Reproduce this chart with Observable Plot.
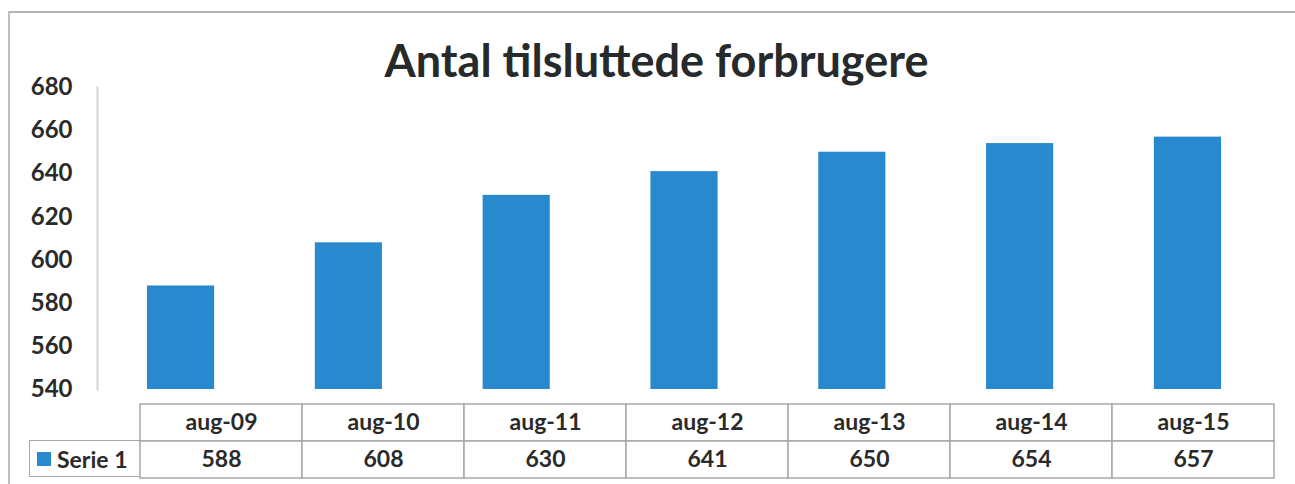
<!DOCTYPE html>
<html>
<head>
<meta charset="utf-8">
<script src="https://cdn.jsdelivr.net/npm/d3@7"></script>
<script src="https://cdn.jsdelivr.net/npm/@observablehq/plot@0.6"></script>
<style>
  html, body { margin: 0; padding: 0; background: #fff; }
  #wrap { position: relative; width: 1295px; height: 484px; overflow: hidden; font-family: Lato, sans-serif; color: #2a2a2a; }
  #border { position: absolute; left: 8px; top: 11px; width: 1300px; height: 480px; border-top: 2px solid #b5b5b5; border-left: 2px solid #c0c0c0; }
  #title { position: absolute; left: 0; width: 1313px; top: 33px; text-align: center; font-family: Lato, sans-serif; font-weight: 700; font-size: 45px; color: #262a2a; white-space: nowrap; }
  #chart { position: absolute; left: 0; top: 0; }
  #table { position: absolute; left: 0; top: 403px; }
  #legendcell { position: absolute; left: 29px; top: 440px; width: 111px; height: 37px; box-sizing: border-box; border: 1.5px solid #a8a8a8; border-right: none; display: flex; align-items: center; font-size: 23px; font-weight: 700; color: #2a2a2a; }
  #legendcell .sw { display: inline-block; width: 14px; height: 14px; background: #2989cf; margin: 0 6px 0 7px; }
</style>
</head>
<body>
<div id="wrap">
  <div id="border"></div>
  <div id="chart"></div>
  <div id="title">Antal tilsluttede forbrugere</div>
  <div id="table"></div>
  <div id="legendcell"><span class="sw"></span>Serie 1</div>
</div>
<script>
const categories = ["aug-09", "aug-10", "aug-11", "aug-12", "aug-13", "aug-14", "aug-15"];
const values = [588, 608, 630, 641, 650, 654, 657];
const yTicks = [540, 560, 580, 600, 620, 640, 660, 680];
const seriesName = "Serie 1";

const data = categories.map((c, i) => ({cat: c, value: values[i]}));
const barColor = "#2989cf";

const chart = Plot.plot({
  width: 1295,
  height: 410,
  marginTop: 87,
  marginBottom: 21,
  marginLeft: 97,
  marginRight: 24,
  style: {fontFamily: "Lato, sans-serif", background: "transparent", overflow: "visible"},
  x: {domain: categories, paddingInner: 0.6, paddingOuter: 0.298, round: false, axis: null},
  y: {domain: [540, 680], ticks: yTicks, label: null},
  marks: [
    Plot.frame({anchor: "left", stroke: "#d4d4d4", strokeWidth: 2}),
    Plot.axisY({ticks: yTicks, tickSize: 0, tickPadding: 25, label: null,
      fontSize: 24, fontWeight: 700, fill: "#2a2a2a"}),
    Plot.barY(data, {x: "cat", y1: 540, y2: "value", fill: barColor})
  ]
});
document.getElementById("chart").appendChild(chart);

const rows = ["head", "val"];
const tableData = [];
categories.forEach((c, i) => {
  tableData.push({cat: c, row: "head", label: c});
  tableData.push({cat: c, row: "val", label: String(values[i])});
});

const table = Plot.plot({
  width: 1295,
  height: 76,
  marginTop: 1,
  marginBottom: 1,
  marginLeft: 140,
  marginRight: 21,
  style: {fontFamily: "Lato, sans-serif", background: "transparent", overflow: "visible"},
  x: {domain: categories, padding: 0, axis: null},
  y: {domain: rows, padding: 0, axis: null},
  marks: [
    Plot.cell(tableData, {x: "cat", y: "row", fill: "white", stroke: "#a8a8a8", strokeWidth: 1.5}),
    Plot.text(tableData, {x: "cat", y: "row", text: "label", fontSize: 23, fontWeight: 700, fill: "#2a2a2a"})
  ]
});
document.getElementById("table").appendChild(table);
</script>
</body>
</html>
